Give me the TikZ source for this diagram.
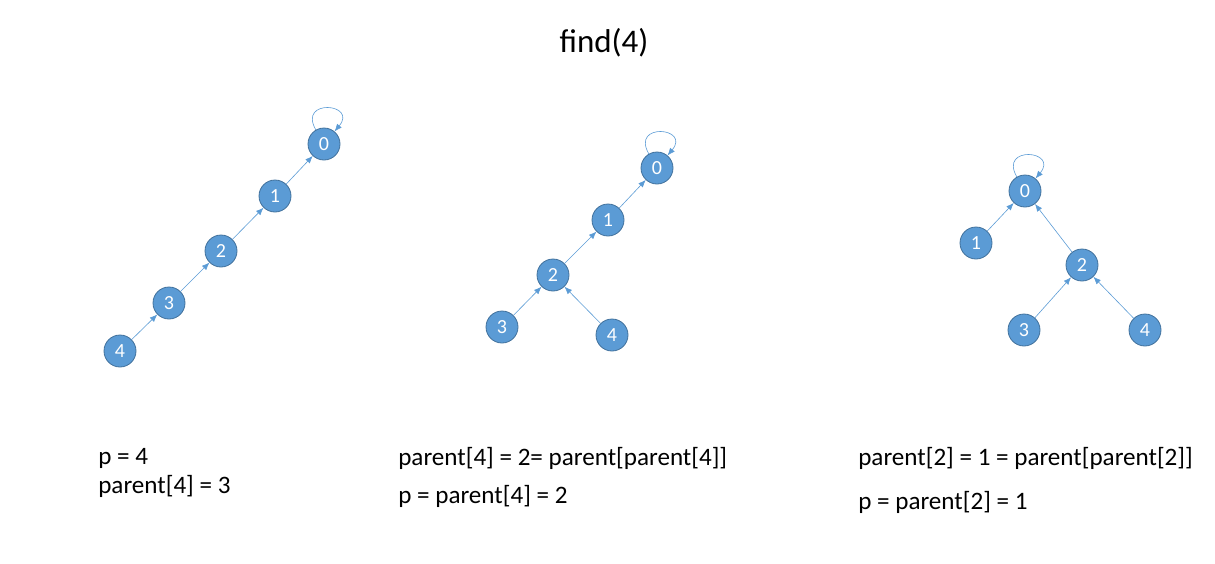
\documentclass[tikz,border=0pt]{standalone}
\usepackage{fontspec}
\setmainfont{Carlito}
\usepackage{tikz}
\usetikzlibrary{arrows.meta,positioning}

\definecolor{nodeblue}{HTML}{5B9BD5}
\definecolor{nodeedge}{HTML}{41719C}

\tikzset{
  vertex/.style={circle,fill=nodeblue,draw=nodeedge,line width=0.8pt,
                 minimum size=32pt,inner sep=0pt,text=white,
                 font=\fontsize{20}{24}\selectfont},
  note/.style={anchor=base west,inner sep=0pt,
               font=\fontsize{25.1}{29}\selectfont},
  selfloop/.style={out=120,in=50,looseness=5}
}

\begin{document}
\begin{tikzpicture}[x=1pt,y=-1pt,->,>={Latex[length=7.5pt,width=6pt]},
                    on grid,draw=nodeblue,line width=0.6pt]

  \useasboundingbox (0,0) rectangle (1215,563);

  \node[anchor=base,font=\fontsize{33}{40}\selectfont] (title) at (604,52) {find(4)};

  % first panel: the chain
  \node[vertex] (a4) at (120,351)                 {4};
  \node[vertex] (a3) [above right=48pt and 49pt of a4] {3};
  \node[vertex] (a2) [above right=52pt and 52pt of a3] {2};
  \node[vertex] (a1) [above right=55pt and 54pt of a2] {1};
  \node[vertex] (a0) [above right=52pt and 49pt of a1] {0};

  \path (a4) edge (a3);
  \path (a3) edge (a2);
  \path (a2) edge (a1);
  \path (a1) edge (a0);
  \path (a0) edge [selfloop] (a0);

  \node[note] (t1a) at (98,464) {p = 4};
  \node[note] (t1b) at (98,493) {parent[4] = 3};

  % second panel
  \node[vertex] (b0) at (657,168)                 {0};
  \node[vertex] (b1) [below left=52pt and 49pt of b0]  {1};
  \node[vertex] (b2) [below left=55pt and 55pt of b1]  {2};
  \node[vertex] (b3) [below left=52pt and 51pt of b2]  {3};
  \node[vertex] (b4) [below right=60pt and 59pt of b2] {4};

  \path (b3) edge (b2);
  \path (b4) edge (b2);
  \path (b2) edge (b1);
  \path (b1) edge (b0);
  \path (b0) edge [selfloop] (b0);

  \node[note] (t2a) at (398,465) {parent[4] = 2= parent[parent[4]]};
  \node[note] (t2b) at (398,503) {p = parent[4] = 2};

  % third panel
  \node[vertex] (c0) at (1025,191)                {0};
  \node[vertex] (c1) [below left=52pt and 49pt of c0]  {1};
  \node[vertex] (c2) [below right=74pt and 57pt of c0] {2};
  \node[vertex] (c3) [below left=65pt and 58pt of c2]  {3};
  \node[vertex] (c4) [below right=65pt and 63pt of c2] {4};

  \path (c1) edge (c0);
  \path (c2) edge (c0);
  \path (c3) edge (c2);
  \path (c4) edge (c2);
  \path (c0) edge [selfloop] (c0);

  \node[note] (t3a) at (858,465) {parent[2] = 1 = parent[parent[2]]};
  \node[note] (t3b) at (858,509) {p = parent[2] = 1};

\end{tikzpicture}
\end{document}
